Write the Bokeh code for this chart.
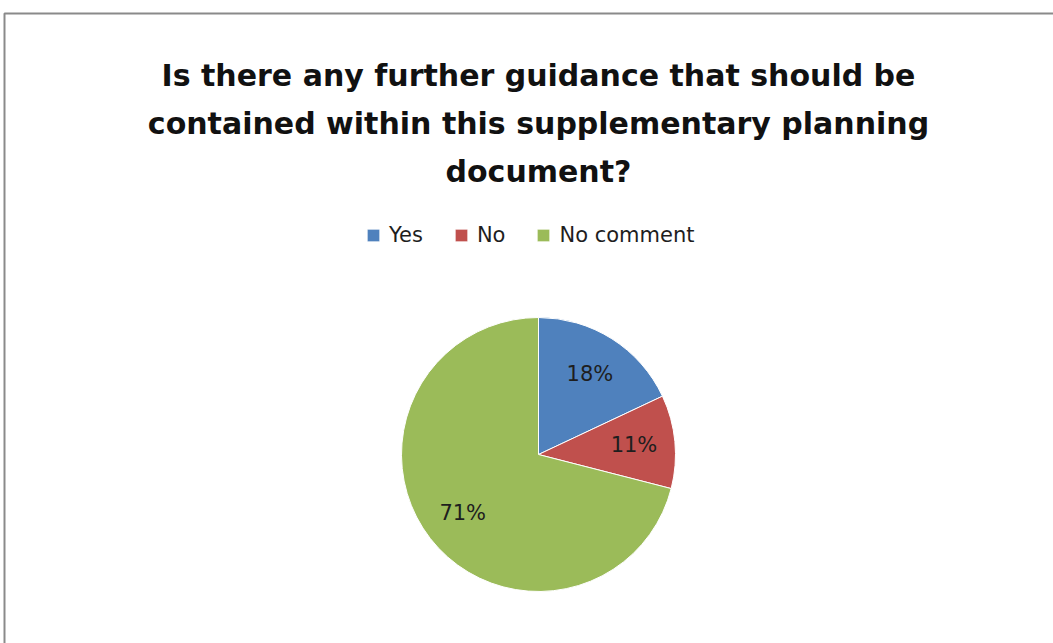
import numpy as np
from bokeh.plotting import figure
from bokeh.models import ColumnDataSource, Range1d, Label
from bokeh.core.properties import value
from bokeh.embed import file_html
from bokeh.resources import INLINE

# ---- data ----
categories = ["Yes", "No", "No comment"]
percentages = [18, 11, 71]
colors = ["#4F81BD", "#C0504D", "#9BBB59"]
title_lines = [
    "Is there any further guidance that should be",
    "contained within this supplementary planning",
    "document?",
]

W, H = 1053, 643
p = figure(width=W, height=H, x_range=Range1d(0, W), y_range=Range1d(0, H),
           output_backend="svg", toolbar_location=None, min_border=0,
           x_axis_location=None, y_axis_location=None)
p.grid.visible = False
p.outline_line_color = None
p.background_fill_color = "white"
p.border_fill_color = "white"

# chart area border (extends past right and bottom of window)
p.line(x=[4, 4, W + 20], y=[-20, H - 13, H - 13], line_color="#8a8a8a", line_width=2)

# ---- pie ----
cx, cy, R = 538, H - 454, 137
vals = np.array(percentages, dtype=float)
frac = vals / vals.sum()
cum = np.cumsum(frac)
start = np.pi / 2 - 2 * np.pi * (cum - frac)
end = np.pi / 2 - 2 * np.pi * cum
mid = (start + end) / 2

src = ColumnDataSource(dict(
    category=categories, color=colors, start=start, end=end,
    lx=cx + 0.70 * R * np.cos(mid), ly=cy + 0.70 * R * np.sin(mid),
    label=[f"{v:.0f}%" for v in percentages],
))
p.wedge(x=cx, y=cy, radius=R, start_angle="start", end_angle="end",
        direction="clock", fill_color="color", line_color="white", line_width=1,
        source=src, legend_field="category")

p.text(x="lx", y="ly", text="label", source=src, text_align="center",
       text_baseline="middle", text_font=value("DejaVu Sans"),
       text_font_size="21px", text_color="#1e1e1e")

# ---- title ----
for i, line in enumerate(title_lines):
    p.add_layout(Label(x=538, y=H - 75 - 48 * i, text=line, text_align="center",
                       text_baseline="alphabetic", text_font="DejaVu Sans",
                       text_font_style="bold", text_font_size="30px",
                       text_color="#111111"))

# ---- legend ----
leg = p.legend[0]
leg.orientation = "horizontal"
leg.location = (365, 396)
leg.margin = 0
leg.padding = 0
leg.border_line_color = None
leg.background_fill_alpha = 0
leg.glyph_width = 16
leg.glyph_height = 16
leg.label_standoff = 8
leg.spacing = 30
leg.label_text_font = "DejaVu Sans"
leg.label_text_font_size = "21px"
leg.label_text_color = "#1e1e1e"
leg.label_height = 20

open("out.html", "w").write(file_html(p, INLINE))
